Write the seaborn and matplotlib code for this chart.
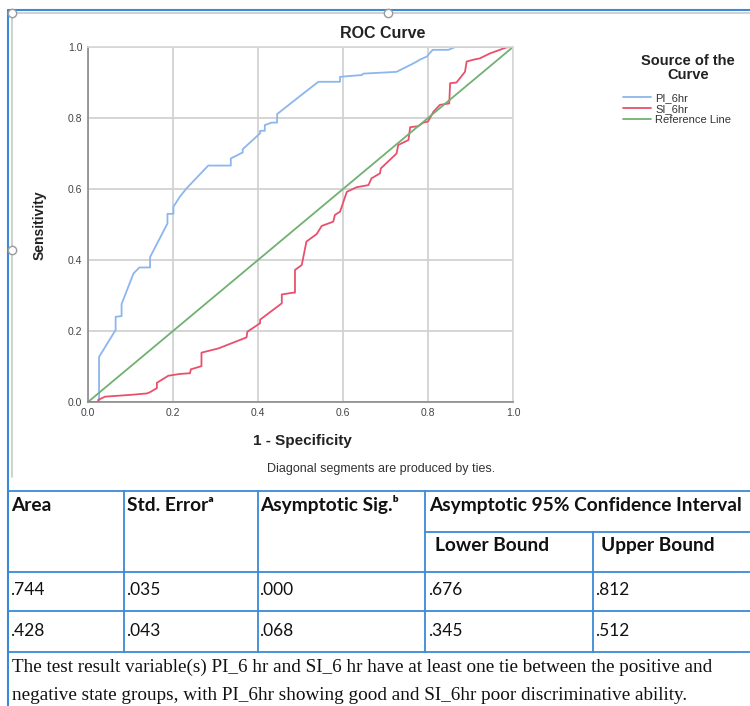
import numpy as np
import pandas as pd
import matplotlib
matplotlib.use("Agg")
import matplotlib.pyplot as plt
import seaborn as sns
from matplotlib.lines import Line2D

# ROC points
pi_fpr = [0, 0.026, 0.026, 0.065, 0.065, 0.079, 0.079, 0.107, 0.121, 0.146,
          0.146, 0.187, 0.187, 0.201, 0.201, 0.216, 0.232, 0.283, 0.336, 0.336,
          0.364, 0.364, 0.405, 0.405, 0.416, 0.416, 0.432, 0.445, 0.445, 0.499,
          0.542, 0.593, 0.593, 0.644, 0.648, 0.726, 0.766, 0.772, 0.782, 0.797,
          0.811, 0.848, 0.864, 1.0]
pi_tpr = [0, 0, 0.127, 0.203, 0.24, 0.242, 0.276, 0.362, 0.379, 0.379,
          0.408, 0.503, 0.530, 0.530, 0.550, 0.578, 0.602, 0.666, 0.666, 0.686,
          0.703, 0.712, 0.757, 0.764, 0.764, 0.780, 0.787, 0.787, 0.811, 0.862,
          0.902, 0.902, 0.916, 0.921, 0.925, 0.930, 0.954, 0.958, 0.965, 0.973,
          0.992, 0.992, 1.0, 1.0]

si_fpr = [0, 0.024, 0.024, 0.04, 0.099, 0.138, 0.145, 0.162, 0.162, 0.189,
          0.216, 0.24, 0.242, 0.267, 0.267, 0.307, 0.373, 0.375, 0.405, 0.405,
          0.456, 0.456, 0.483, 0.487, 0.487, 0.503, 0.514, 0.538, 0.550, 0.577,
          0.581, 0.593, 0.609, 0.632, 0.660, 0.667, 0.687, 0.689, 0.726, 0.730,
          0.754, 0.758, 0.777, 0.789, 0.800, 0.813, 0.828, 0.850, 0.852, 0.867,
          0.887, 0.891, 0.906, 0.922, 0.946, 0.969, 0.985, 1.0]
si_tpr = [0, 0, 0.006, 0.015, 0.020, 0.024, 0.027, 0.039, 0.054, 0.074,
          0.079, 0.081, 0.092, 0.101, 0.139, 0.151, 0.182, 0.198, 0.222, 0.232,
          0.278, 0.303, 0.308, 0.308, 0.372, 0.386, 0.452, 0.473, 0.496, 0.508,
          0.527, 0.536, 0.592, 0.605, 0.611, 0.630, 0.644, 0.658, 0.700, 0.724,
          0.738, 0.774, 0.777, 0.787, 0.790, 0.818, 0.837, 0.841, 0.898, 0.900,
          0.930, 0.959, 0.964, 0.968, 0.982, 0.992, 0.999, 1.0]

ref_line = [0, 1]
series_names = ['PI_6hr', 'SI_6hr', 'Reference Line']
ticks = [0.0, 0.2, 0.4, 0.6, 0.8, 1.0]

# Area under the curve table
area = [0.744, 0.428]
std_err = [0.035, 0.043]
asym_sig = [0.000, 0.068]
ci_lower = [0.676, 0.345]
ci_upper = [0.812, 0.512]
footnote = ["The test result variable(s) PI_6 hr and SI_6 hr have at least one tie between the positive and",
            "negative state groups, with PI_6hr showing good and SI_6hr poor discriminative ability."]

colors = {'PI_6hr': '#8cb6ee', 'SI_6hr': '#e8506c', 'Reference Line': '#72b072'}

sns.set_style("white")
plt.rcParams['font.family'] = ['Liberation Sans', 'DejaVu Sans']

W, H = 750, 706
fig = plt.figure(figsize=(W / 100, H / 100), dpi=100)

# overlay in pixel coordinates for the frame, titles and the table
frame = fig.add_axes([0, 0, 1, 1])
frame.set_xlim(0, W)
frame.set_ylim(H, 0)
frame.axis('off')

ax = fig.add_axes([88 / W, 1 - 402 / H, 425 / W, 355 / H])

df = pd.concat([
    pd.DataFrame({'fpr': pi_fpr, 'tpr': pi_tpr, 'curve': 'PI_6hr'}),
    pd.DataFrame({'fpr': si_fpr, 'tpr': si_tpr, 'curve': 'SI_6hr'}),
    pd.DataFrame({'fpr': ref_line, 'tpr': ref_line, 'curve': 'Reference Line'}),
])
sns.lineplot(data=df, x='fpr', y='tpr', hue='curve', hue_order=series_names,
             palette=colors, sort=False, estimator=None, linewidth=1.3, ax=ax,
             legend=False)

ax.set_xlim(0, 1)
ax.set_ylim(0, 1)
ax.set_xticks(ticks)
ax.set_yticks(ticks)
ax.set_xticklabels([f"{t:.1f}" for t in ticks])
ax.set_yticklabels([f"{t:.1f}" for t in ticks])
ax.tick_params(length=0, labelsize=7.5, colors='#444444', pad=4)
ax.set_xlabel('')
ax.set_ylabel('')
ax.grid(True, color='#d2d2d2', linewidth=1.3)
ax.set_axisbelow(True)
for side in ['top', 'right']:
    ax.spines[side].set_color('#d8d8d8')
    ax.spines[side].set_linewidth(1.2)
for side in ['left', 'bottom']:
    ax.spines[side].set_color('#8a8a8a')
    ax.spines[side].set_linewidth(1.2)

# legend: title drawn separately so it can sit centred above the entries
frame.text(688, 68, 'Source of the\nCurve', ha='center', va='center',
           multialignment='center', fontsize=10.5, fontweight='bold',
           linespacing=1.0, color='#222222')
handles = [Line2D([], [], color=colors[n], lw=1.3) for n in series_names]
leg = ax.legend(handles, series_names, loc='upper left',
                bbox_to_anchor=(623, 93), bbox_transform=frame.transData,
                frameon=False, fontsize=8, handlelength=2.5,
                handletextpad=0.4, labelspacing=0.1, borderpad=0,
                borderaxespad=0)
for t in leg.get_texts():
    t.set_color('#333333')

# chart titles
frame.text(383, 34, 'ROC Curve', ha='center', va='center', fontsize=11.5,
           fontweight='bold', color='#222222')
frame.text(302, 441, '1 - Specificity', ha='center', va='center', fontsize=11,
           fontweight='bold', color='#222222')
frame.text(40, 225, 'Sensitivity', ha='center', va='center', rotation=90,
           fontsize=10, fontweight='bold', color='#222222')
frame.text(381, 469, 'Diagonal segments are produced by ties.', ha='center',
           va='center', fontsize=9, color='#333333')

# object frame (blue outer, grey inner) and handles
blue = '#3a8ad6'
frame.plot([8, W], [10, 10], color=blue, lw=1.5)
frame.plot([8, 8], [10, H], color=blue, lw=1.5)
frame.plot([12, W], [13, 13], color='#c8c8c8', lw=1.2)
frame.plot([12, 12], [13, 477], color='#c8c8c8', lw=1.2)
for hx, hy in [(12, 13), (388, 13), (12, 250)]:
    frame.plot(hx, hy, marker='o', ms=6, mfc='white', mec='#9a9a9a', mew=1)

# table grid
col_x = [8, 124, 258, 425, 593]
row_top, sub_y, head_y, r1_y, r2_y = 491, 532, 572, 611, 652
for y in [row_top, head_y, r1_y, r2_y]:
    frame.plot([8, W], [y, y], color=blue, lw=1.3)
frame.plot([425, W], [sub_y, sub_y], color=blue, lw=1.3)
for x in col_x[1:4]:
    frame.plot([x, x], [row_top, r2_y], color=blue, lw=1.3)
frame.plot([593, 593], [sub_y, r2_y], color=blue, lw=1.3)

tfont = ['Lato', 'DejaVu Sans']
hdr = dict(fontsize=13.8, fontweight='bold', va='baseline', ha='left',
           family=tfont, color='#111111')
frame.text(11, 511, 'Area', **hdr)
frame.text(127, 511, 'Std. Error\u1d43', **hdr)
frame.text(260, 511, 'Asymptotic Sig.\u1d47', **hdr)
frame.text(429, 511, 'Asymptotic 95% Confidence Interval', **hdr)
frame.text(435, 551, 'Lower Bound', **hdr)
frame.text(601, 551, 'Upper Bound', **hdr)


def fmt(v):
    return f"{v:.3f}"[1:]


cell = dict(fontsize=12.5, va='baseline', ha='left', family=tfont, color='#111111')
for i, y in enumerate([595, 636]):
    frame.text(10, y, fmt(area[i]), **cell)
    frame.text(126, y, fmt(std_err[i]), **cell)
    frame.text(259, y, fmt(asym_sig[i]), **cell)
    frame.text(428, y, fmt(ci_lower[i]), **cell)
    frame.text(595, y, fmt(ci_upper[i]), **cell)

for line, y in zip(footnote, [672, 700]):
    frame.text(12, y, line, fontsize=13.8, va='baseline', ha='left',
               family=['Liberation Serif', 'DejaVu Serif'], color='#111111')

fig.savefig('out.png', dpi=100)
